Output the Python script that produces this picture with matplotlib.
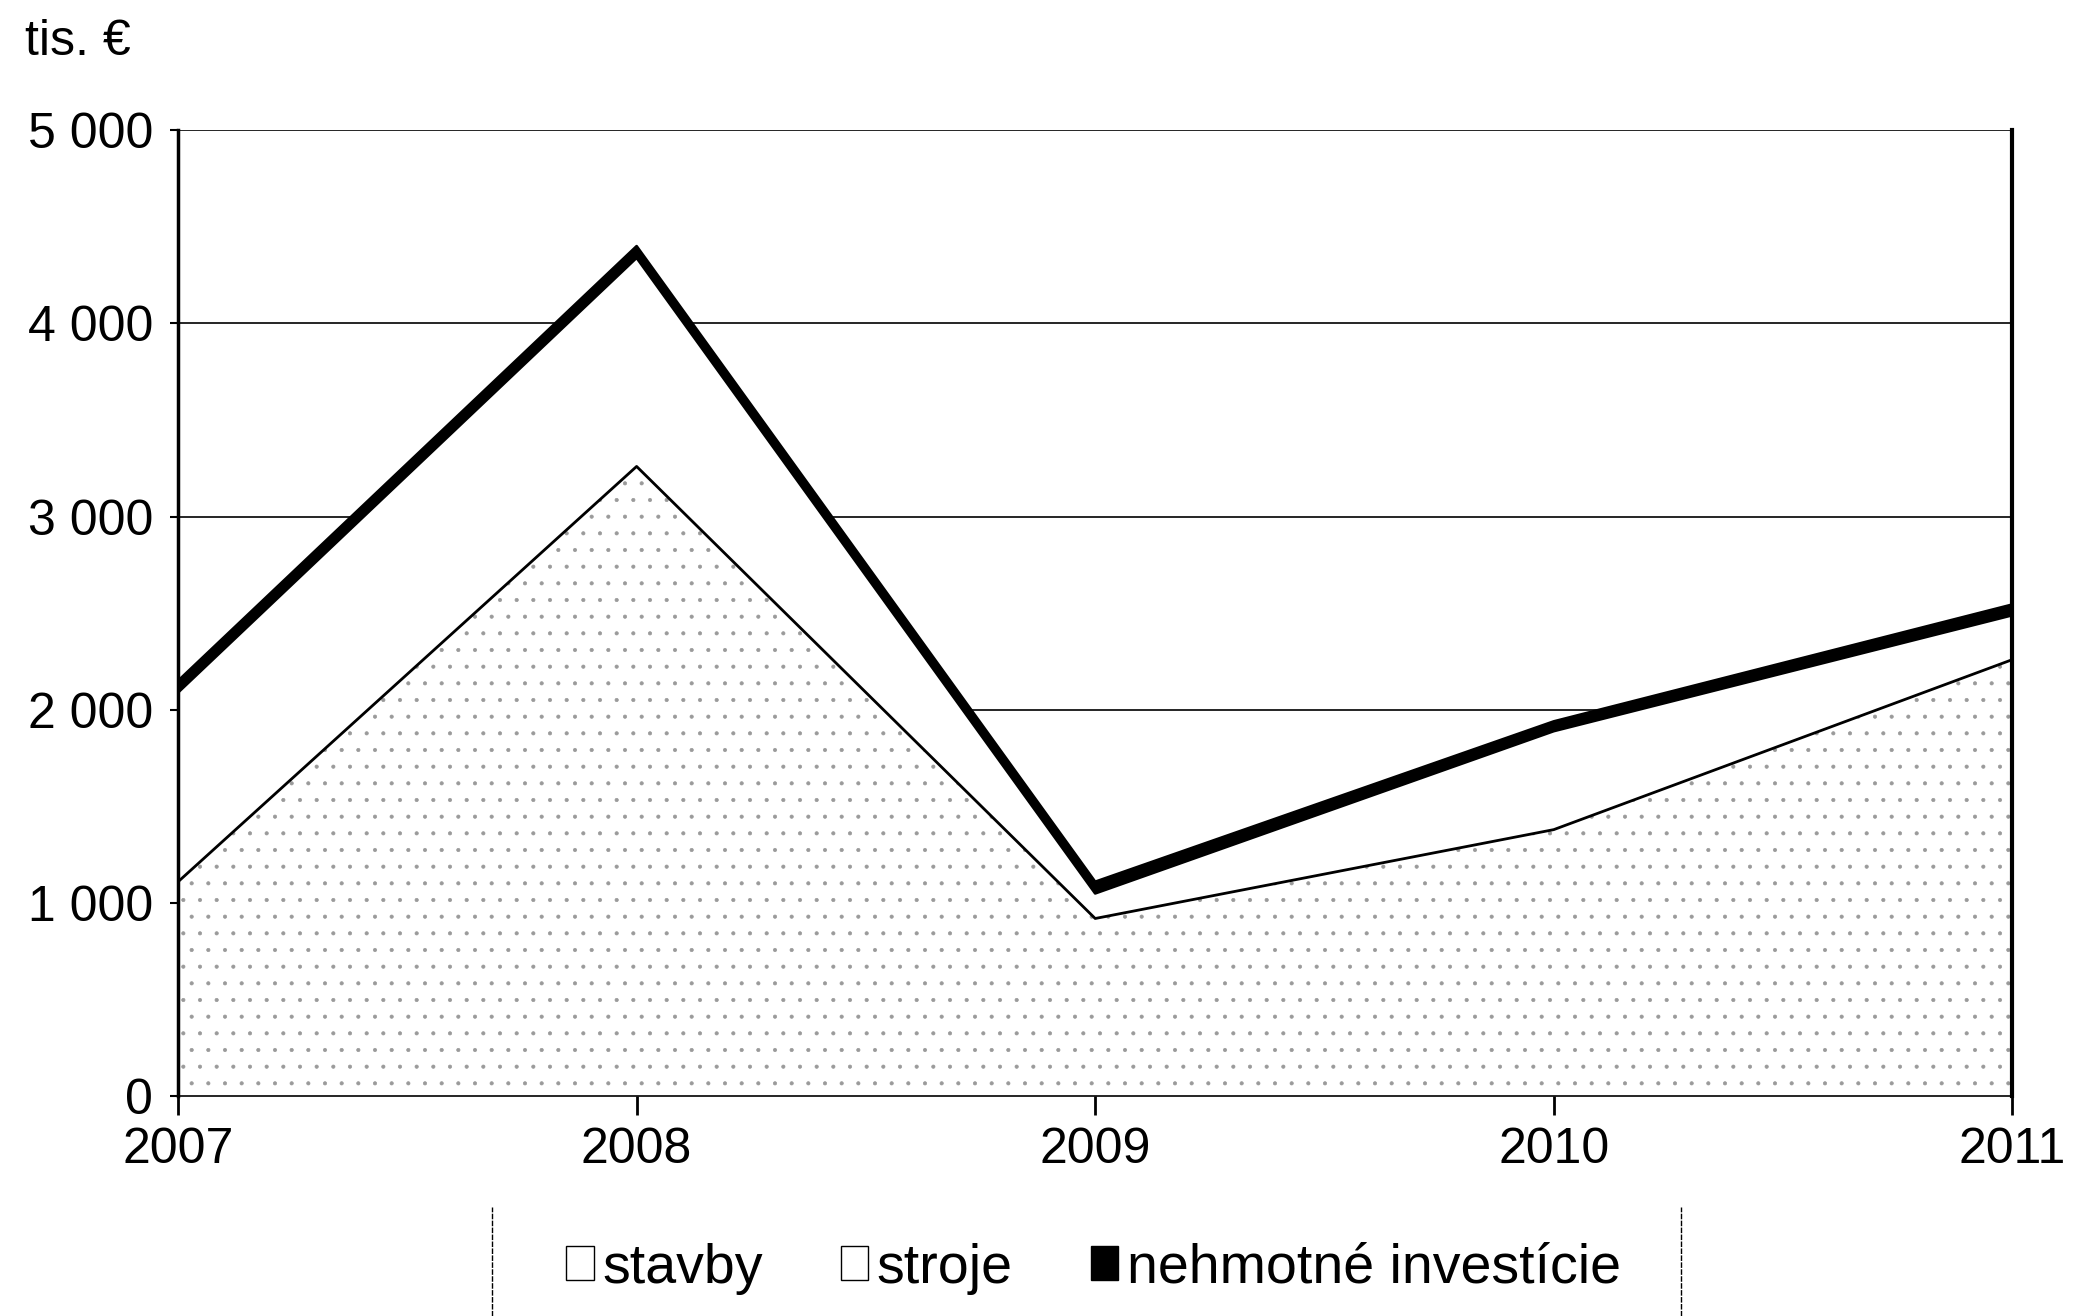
import matplotlib.pyplot as plt
from matplotlib.patches import Patch
from matplotlib.lines import Line2D
import numpy as np

plt.rcParams['font.family'] = ['Liberation Sans', 'DejaVu Sans']
plt.rcParams['hatch.color'] = '#9a9a9a'
plt.rcParams['hatch.linewidth'] = 0.5

years = [2007, 2008, 2009, 2010, 2011]
stavby = np.array([1110, 3260, 920, 1380, 2260])
stroje = np.array([980, 1080, 130, 510, 230])
nehmotne = np.array([60, 60, 60, 50, 55])
yticks = [0, 1000, 2000, 3000, 4000, 5000]
ytick_labels = ["0", "1 000", "2 000", "3 000", "4 000", "5 000"]

lvl1 = stavby
lvl2 = stavby + stroje
lvl3 = lvl2 + nehmotne

fig = plt.figure(figsize=(20.75, 13.16), dpi=100)
ax = fig.add_axes([0.0858, 0.167, 0.884, 0.734])

# gridlines sit behind the opaque areas
for v in yticks[1:]:
    ax.axhline(v, color='black', lw=1.2, zorder=0)

ax.fill_between(years, 0, lvl1, facecolor='white', hatch='.', edgecolor='#9a9a9a', lw=0, zorder=1)
ax.fill_between(years, lvl1, lvl2, facecolor='white', lw=0, zorder=1)
ax.fill_between(years, lvl2, lvl3, facecolor='black', lw=0, zorder=2)
ax.plot(years, lvl1, color='black', lw=2, zorder=3)
ax.plot(years, lvl2, color='black', lw=2, zorder=3)
ax.plot(years, lvl3, color='black', lw=2, zorder=3)

ax.set_xlim(2007, 2011)
ax.set_ylim(0, 5000)
ax.set_xticks(years)
ax.set_xticklabels([str(y) for y in years], fontsize=36)
ax.set_yticks(yticks)
ax.set_yticklabels(ytick_labels, fontsize=36)
ax.tick_params(axis='x', direction='out', length=14, width=2, pad=8)
ax.tick_params(axis='y', direction='out', length=6, width=1.5, pad=12)

ax.spines['top'].set_visible(False)
ax.spines['left'].set_linewidth(2.5)
ax.spines['right'].set_linewidth(3)
ax.spines['bottom'].set_linewidth(1.2)

fig.text(0.012, 0.968, "tis. €", fontsize=36, va='center', ha='left')

handles = [
    Patch(facecolor='white', edgecolor='black', lw=1, label='stavby'),
    Patch(facecolor='white', edgecolor='black', lw=1, label='stroje'),
    Patch(facecolor='black', edgecolor='black', lw=1, label='nehmotné investície'),
]
fig.legend(handles=handles, loc='center', bbox_to_anchor=(0.527, 0.036),
           ncol=3, fontsize=40, frameon=False,
           handlelength=0.5, handleheight=0.55, handletextpad=0.15,
           columnspacing=1.4)

# legend box: only its side borders show in the scan
fig.add_artist(Line2D([0.237, 0.237], [0.0, 0.083], color='black', lw=1, ls=(0, (4, 1))))
fig.add_artist(Line2D([0.810, 0.810], [0.0, 0.083], color='black', lw=1, ls=(0, (4, 1))))

fig.savefig('out.png', dpi=100)
